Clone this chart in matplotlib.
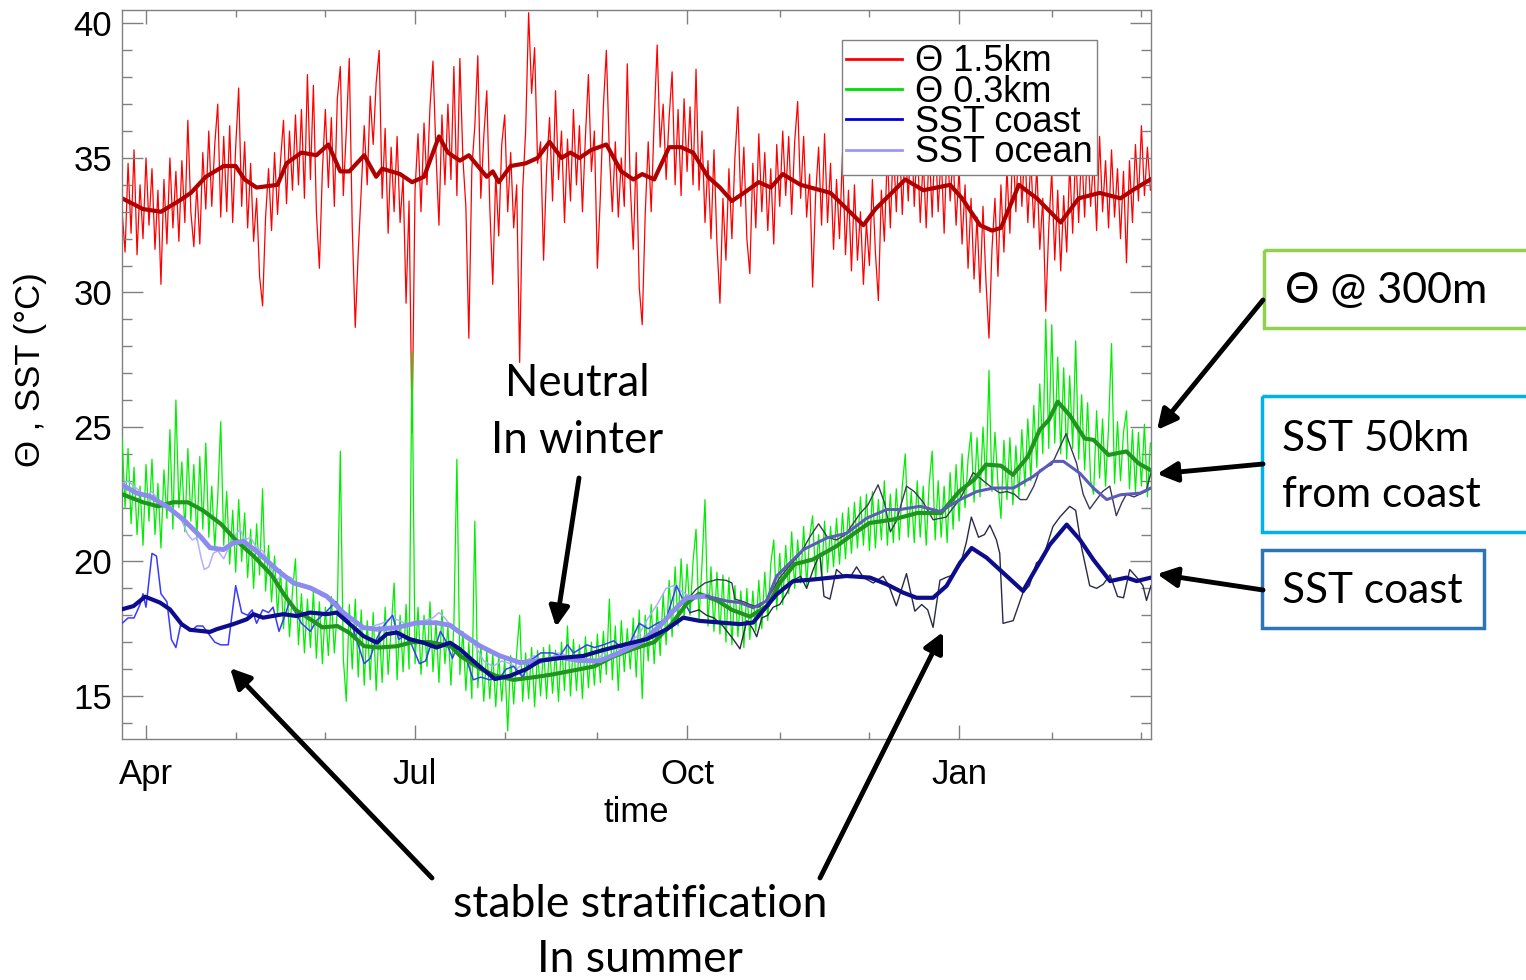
import numpy as np
import matplotlib
matplotlib.use("Agg")
import matplotlib.pyplot as plt
from matplotlib.lines import Line2D
from matplotlib.patches import Rectangle

plt.rcParams['font.family'] = ['Liberation Sans', 'DejaVu Sans']
NOTE_FONT = ['Lato', 'DejaVu Sans']

SWITCH_DAY = 182       # raw SST source changes here

# month starts on the time axis (record day), labelled every third month
month_starts = [0, 30, 60, 90, 120, 151, 181, 212, 242, 272, 303, 333]
month_labels = ['Apr', 'Jul', 'Oct', 'Jan']

# ---- potential temperature at 1.5 km, daily ----
theta15_days = np.arange(-8, 337)
theta15 = [
    33.0, 31.5, 34.8, 32.2, 35.3, 31.4, 34.0, 32.0, 35.0, 32.5,
    34.6, 31.6, 33.8, 30.3, 34.2, 31.8, 35.0, 32.4, 34.5, 31.9,
    34.9, 32.6, 36.4, 33.0, 31.7, 34.0, 31.8, 35.2, 33.1, 36.0,
    33.2, 35.5, 37.0, 32.8, 35.8, 33.0, 36.2, 32.6, 35.4, 37.6,
    33.2, 35.6, 32.4, 34.8, 31.9, 33.5, 30.6, 29.5, 32.8, 34.6,
    32.3, 35.2, 32.9, 34.9, 36.4, 33.3, 36.0, 33.8, 36.6, 34.0,
    36.8, 33.5, 38.1, 34.2, 37.7, 33.0, 30.9, 34.5, 36.8, 33.9,
    36.5, 33.2, 37.2, 38.4, 33.6, 36.0, 38.7, 32.4, 28.7, 31.5,
    33.8, 36.2, 34.0, 37.3, 35.5, 37.8, 39.0, 33.5, 36.1, 32.2,
    35.4, 33.0, 35.8, 32.6, 34.3, 29.6, 33.4, 24.8, 33.8, 35.9,
    33.0, 36.3, 34.0, 36.9, 38.6, 35.2, 32.5, 36.6, 34.0, 37.0,
    34.2, 38.4, 33.6, 38.7, 35.0, 33.2, 28.3, 34.6, 36.2, 38.8,
    33.5, 35.8, 37.5, 33.2, 30.3, 34.4, 32.1, 35.5, 36.6, 33.0,
    35.2, 32.4, 34.0, 27.4, 33.8, 36.0, 40.4, 37.4, 39.1, 34.8,
    35.6, 31.2, 34.6, 36.5, 33.4, 37.5, 34.2, 36.0, 32.6, 35.7,
    33.4, 36.8, 34.0, 36.2, 33.0, 35.8, 38.1, 34.5, 36.0, 30.9,
    33.6, 36.9, 39.0, 35.2, 33.0, 35.6, 32.8, 35.0, 33.2, 38.5,
    34.0, 31.6, 35.2, 30.2, 28.8, 32.9, 35.6, 33.0, 36.4, 39.2,
    35.4, 37.0, 34.2, 36.5, 38.2, 34.0, 36.8, 33.6, 37.2, 34.5,
    36.9, 34.0, 38.3, 33.8, 36.0, 32.6, 34.9, 32.0, 35.3, 31.8,
    29.6, 33.5, 31.2, 34.6, 32.0, 35.0, 36.9, 33.2, 35.4, 32.0,
    30.7, 34.8, 32.4, 35.9, 33.0, 35.2, 32.3, 34.6, 31.8, 35.5,
    33.2, 36.0, 33.6, 35.8, 32.9, 35.6, 37.1, 33.5, 35.8, 32.8,
    34.4, 30.2, 33.6, 35.4, 32.5, 35.9, 32.6, 34.8, 31.6, 34.2,
    32.0, 35.2, 31.4, 33.8, 30.8, 34.0, 31.2, 33.0, 30.3, 32.6,
    31.0, 34.2, 31.5, 29.7, 33.8, 31.9, 35.2, 32.4, 35.5, 33.0,
    35.8, 32.9, 35.5, 33.4, 36.4, 33.2, 35.6, 32.6, 35.0, 32.4,
    35.4, 32.8, 35.9, 33.0, 35.2, 32.2, 35.6, 33.4, 35.1, 32.5,
    34.6, 31.8, 34.0, 30.9, 33.5, 30.5, 32.8, 30.0, 33.2, 30.4,
    28.3, 31.6, 33.5, 30.6, 34.0, 31.5, 34.6, 32.2, 35.6, 33.0,
    35.9, 33.2, 35.4, 32.6, 35.0, 32.4, 34.7, 31.6, 33.5, 29.3,
    32.4, 34.5, 31.2, 33.8, 30.8, 33.6, 31.5, 34.8, 32.2, 35.3,
    32.6, 35.4, 32.8, 35.6, 33.2, 35.0, 32.3, 35.8, 33.0, 34.9,
    32.4, 35.3, 32.8, 34.6, 32.0, 34.5, 31.1, 34.9, 32.6, 35.5,
    33.4, 36.2, 33.6, 35.4, 33.8,
]
theta15_smooth_days = [
    -8, -1, 5, 11, 15, 20, 26, 30, 33, 37, 44, 47, 52, 57, 61, 65, 68, 73,
    77, 79, 85, 89, 93, 98, 101, 105, 108, 114, 116, 118, 122, 127, 131,
    135, 139, 142, 145, 149, 154, 159, 163, 166, 170, 175, 179, 183, 188,
    192, 196, 200, 205, 209, 213, 219, 229, 240, 244, 254, 260, 269, 273,
    279, 283, 286, 292, 298, 306, 312, 319, 326, 330, 336,
]
theta15_smooth = [
    33.5, 33.1, 33.0, 33.4, 33.7, 34.3, 34.7, 34.7, 34.2, 33.9, 34.0, 34.8,
    35.2, 35.1, 35.5, 34.5, 34.5, 35.1, 34.3, 34.6, 34.4, 34.1, 34.3, 35.8,
    35.2, 34.9, 35.1, 34.3, 34.5, 34.1, 34.7, 34.8, 35.0, 35.6, 35.0, 35.2,
    35.0, 35.3, 35.5, 34.5, 34.2, 34.4, 34.2, 35.4, 35.4, 35.2, 34.3, 33.9,
    33.4, 33.7, 34.1, 33.9, 34.4, 34.0, 33.7, 32.5, 33.1, 34.2, 33.8, 34.0,
    33.5, 32.5, 32.3, 32.4, 34.0, 33.5, 32.6, 33.5, 33.7, 33.5, 33.8, 34.2,
]

# ---- potential temperature at 0.3 km, daily ----
theta03_days = np.arange(-8, 337)
theta03 = [
    24.6, 22.0, 24.2, 21.4, 23.5, 21.0, 22.8, 20.6, 23.6, 21.5,
    23.8, 21.0, 22.9, 20.5, 23.4, 21.6, 24.9, 21.2, 26.0, 22.0,
    23.7, 21.1, 24.2, 21.5, 23.6, 20.8, 23.9, 21.2, 24.4, 20.9,
    22.8, 20.5, 22.4, 25.2, 20.6, 22.6, 19.9, 21.9, 19.6, 22.3,
    20.0, 21.8, 19.4, 21.2, 19.0, 21.4, 19.5, 22.7, 18.9, 20.6,
    18.5, 20.2, 18.0, 19.7, 17.5, 19.4, 17.2, 18.9, 20.1, 16.9,
    18.8, 16.6, 18.6, 16.8, 18.9, 16.4, 18.5, 16.2, 18.3, 16.5,
    18.7, 16.6, 18.2, 24.1, 16.4, 14.8, 18.4, 16.0, 18.6, 15.7,
    18.2, 15.4, 17.8, 15.6, 18.1, 15.2, 17.6, 15.5, 18.3, 15.8,
    17.5, 19.2, 15.6, 18.0, 15.9, 18.4, 16.0, 27.8, 16.2, 18.3,
    15.8, 18.0, 16.1, 18.5, 15.9, 17.8, 15.5, 18.2, 16.2, 17.6,
    15.4, 17.7, 23.8, 15.8, 17.4, 15.2, 17.0, 14.9, 21.5, 15.3,
    16.9, 14.8, 16.7, 14.9, 16.6, 14.6, 16.5, 14.8, 16.4, 13.7,
    16.5, 14.7, 16.6, 18.0, 14.8, 16.6, 14.9, 16.8, 14.6, 16.7,
    15.0, 16.8, 14.9, 16.9, 15.1, 16.7, 14.8, 17.0, 15.2, 17.6,
    15.0, 17.1, 15.2, 16.9, 14.9, 17.2, 15.3, 17.0, 15.4, 17.3,
    15.5, 17.4, 15.8, 18.6, 15.6, 17.6, 15.2, 17.8, 15.9, 17.5,
    16.0, 17.9, 15.7, 18.2, 14.9, 18.0, 16.3, 18.4, 16.2, 18.3,
    16.5, 18.8, 16.9, 19.3, 17.2, 19.8, 17.6, 20.1, 17.9, 19.9,
    18.0, 20.0, 21.2, 17.8, 19.9, 22.3, 17.6, 19.8, 17.4, 19.6,
    17.3, 19.5, 17.0, 19.4, 16.9, 19.1, 17.2, 18.9, 16.8, 19.0,
    17.1, 18.9, 17.4, 19.3, 17.5, 19.6, 17.8, 19.9, 20.8, 18.2,
    20.3, 18.4, 20.6, 18.8, 21.1, 19.0, 20.8, 19.2, 21.3, 19.1,
    20.9, 21.7, 19.3, 21.0, 19.4, 21.5, 19.6, 21.3, 19.8, 21.6,
    19.9, 21.8, 20.1, 22.0, 20.3, 22.2, 20.5, 22.4, 20.6, 22.5,
    20.4, 22.6, 20.5, 22.3, 20.8, 23.0, 20.6, 22.5, 20.7, 22.7,
    20.8, 22.8, 24.0, 20.9, 22.6, 20.7, 23.0, 20.9, 22.8, 20.6,
    22.9, 24.1, 20.8, 23.0, 20.9, 22.8, 20.7, 23.3, 21.2, 23.6,
    21.5, 24.0, 22.0, 23.8, 24.8, 22.2, 24.6, 22.4, 25.0, 22.8,
    27.1, 22.6, 24.8, 22.9, 21.6, 24.5, 22.3, 24.6, 22.1, 24.3,
    22.4, 24.9, 22.8, 25.3, 23.0, 25.8, 23.5, 26.6, 24.0, 29.0,
    24.2, 28.8, 24.4, 27.6, 24.0, 27.2, 23.8, 26.9, 24.2, 28.2,
    23.8, 26.2, 23.4, 25.9, 23.0, 22.5, 25.6, 23.1, 25.3, 22.8,
    25.0, 28.1, 22.9, 25.2, 23.0, 24.8, 25.6, 22.7, 24.9, 22.6,
    24.8, 22.8, 25.1, 22.4, 24.4,
]
theta03_smooth_days = [
    -8, -1, 4, 9, 14, 19, 25, 30, 36, 42, 46, 50, 55, 59, 64, 68, 73, 78,
    84, 89, 95, 102, 105, 112, 117, 123, 130, 136, 143, 150, 156, 163, 170,
    176, 181, 185, 191, 196, 202, 208, 212, 217, 223, 231, 237, 242, 250,
    258, 266, 272, 277, 281, 286, 290, 295, 299, 302, 305, 309, 314, 317,
    322, 328, 332, 336,
]
theta03_smooth = [
    22.5, 22.2, 22.05, 22.2, 22.2, 21.9, 21.4, 20.8, 20.2, 19.5, 18.8, 18.2,
    17.85, 17.55, 17.6, 17.35, 16.85, 16.8, 16.85, 17.0, 17.0, 16.85, 16.5,
    16.0, 15.75, 15.6, 15.7, 15.8, 15.95, 16.1, 16.45, 16.75, 17.0, 17.7,
    18.45, 18.8, 18.55, 18.2, 17.95, 18.35, 19.2, 19.9, 20.07, 20.57, 21.05,
    21.43, 21.56, 21.8, 21.8, 22.6, 23.04, 23.6, 23.56, 23.22, 23.9, 24.9,
    25.26, 25.94, 25.44, 24.57, 24.52, 23.96, 24.09, 23.65, 23.4,
]

# ---- SST at the coast ----
coast_days = [
    -8, -6, -4, -2, -1, 0, 2, 3.5, 5, 7,
    8.5, 10, 11.5, 13, 15, 17, 19, 21, 23, 25,
    27.5, 30, 32, 34, 35.5, 37, 39, 41, 42.5, 44.5,
    46.5, 48, 50, 52, 55, 57, 60, 63.5, 66, 69,
    71, 73, 75, 77, 79.5, 82.5, 84.5, 86, 88.5, 91.5,
    93.5, 95, 97, 98.5, 100.5, 102.5, 104, 106.5, 109.5, 112,
    115, 118.5, 120.5, 123, 126, 128.5, 132, 136, 138.5, 141,
    143, 147.5, 150, 153, 156.5, 159, 162, 165, 168, 171,
    174, 177.5, 179.5, 182, 185, 187.5, 190, 193, 196.5, 198.7,
    201, 203, 204.3, 206, 208, 209.8, 212, 214.5, 216.5, 219,
    221, 223.2, 225.4, 226.8, 228.8, 231, 233, 235.5, 237.7, 240,
    243.3, 246.6, 248.5, 251, 254.4, 257.2, 259.5, 261.5, 263.3, 265.6,
    267.5, 270, 272.5, 274.4, 276.1, 278.5, 280.5, 282.3, 284.5, 285.6,
    286.7, 290.1, 293.4, 295.5, 297.9, 300, 303.4, 305.7, 309, 311,
    313, 315.7, 318, 320.2, 322.5, 325, 327, 329.1, 331.5, 333.5,
    334.7, 336.2,
]
coast_sst = [
    17.7, 17.9, 17.9, 18.4, 18.8, 18.3, 20.3, 20.2, 18.8, 18.5,
    17.1, 16.8, 17.6, 17.6, 17.4, 17.6, 17.6, 17.3, 17.0, 16.9,
    16.9, 19.1, 18.1, 18.0, 18.2, 17.7, 18.2, 18.1, 18.3, 17.4,
    18.0, 18.5, 18.1, 17.7, 17.4, 17.8, 18.1, 18.5, 18.0, 17.6,
    16.9, 16.2, 16.4, 17.1, 17.6, 18.0, 17.1, 17.2, 17.0, 16.2,
    16.3, 16.8, 16.9, 17.4, 17.0, 16.4, 16.8, 16.6, 15.6, 15.7,
    15.6, 15.7, 16.0, 16.1, 15.7, 16.3, 16.6, 16.6, 16.5, 16.9,
    16.6, 16.9, 16.8, 16.9, 17.05, 16.8, 17.0, 17.7, 17.5, 17.7,
    17.85, 19.1, 18.6, 18.1, 18.2, 18.0, 17.9, 17.6, 17.1, 16.75,
    17.8, 17.5, 17.2, 17.9, 18.0, 18.3, 18.4, 18.85, 19.3, 19.45,
    19.0, 19.7, 20.3, 18.7, 18.6, 19.7, 19.5, 19.4, 19.8, 19.4,
    19.2, 19.45, 19.1, 18.35, 19.55, 18.15, 18.4, 18.2, 17.55, 19.3,
    19.4, 19.5, 19.9, 20.7, 21.65, 20.9, 21.0, 21.35, 20.8, 20.3,
    17.7, 17.8, 18.85, 19.1, 19.95, 20.1, 21.3, 21.65, 22.05, 21.9,
    20.5, 19.1, 19.0, 19.15, 19.5, 18.7, 18.65, 19.7, 19.4, 19.1,
    18.55, 19.1,
]
coast_smooth_days = [
    -8.1, -4.2, -0.3, 4.7, 8.0, 11.9, 14.7, 21.4, 23.6, 29.2, 33.7, 35.9,
    39.2, 45.9, 50.4, 54.9, 60.4, 63.8, 68.2, 72.7, 77.2, 80.5, 83.9, 88.3,
    92.8, 97.2, 101.7, 105.0, 110.6, 116.7, 121.8, 127.3, 131.8, 138.5,
    146.3, 153.0, 160.8, 167.5, 174.2, 179.7, 185.3, 192.0, 198.7, 203.1,
    205.4, 211.0, 216.5, 223.2, 234.4, 242.2, 247.8, 253.3, 257.8, 263.3,
    267.8, 272.3, 276.2, 281.2, 287.9, 293.4, 297.9, 302.4, 308.0, 312.4,
    316.9, 322.5, 328.0, 331.4, 336.2,
]
coast_smooth = [
    18.22, 18.34, 18.69, 18.47, 18.22, 17.67, 17.46, 17.38, 17.48, 17.67,
    17.85, 18.04, 17.91, 18.04, 17.97, 18.1, 18.04, 18.1, 17.67, 17.23,
    16.98, 17.3, 17.36, 17.11, 16.98, 16.8, 16.98, 16.74, 16.19, 15.63,
    15.75, 16.0, 16.31, 16.41, 16.49, 16.71, 16.93, 17.11, 17.48, 17.91,
    17.79, 17.73, 17.67, 17.73, 18.04, 18.78, 19.27, 19.33, 19.46, 19.4,
    19.15, 18.84, 18.65, 18.65, 19.09, 19.95, 20.5, 20.14, 19.46, 18.9,
    19.77, 20.63, 21.37, 20.81, 20.07, 19.27, 19.4, 19.27, 19.4,
]

# ---- SST 50 km offshore ----
ocean_days = [
    -8, -6, -4, -2, 0, 2, 4, 6, 8, 10,
    12, 14, 15.5, 17, 18.5, 19.5, 21, 22.5, 24, 26,
    28, 30, 31.5, 33, 35, 37, 39, 41, 43.5, 46,
    48.5, 51, 54, 57, 59, 62.5, 64.5, 67, 70, 73,
    76, 79, 82, 85, 88, 90, 93, 96, 98, 100,
    102, 104, 107, 110, 113, 116, 119, 122, 124, 127,
    130, 132, 135, 138, 141, 144, 147, 150, 153, 156,
    159, 162, 165, 168, 171, 174, 176.5, 179, 182, 184,
    187, 191, 194, 196, 197, 200, 202, 205, 207, 209.5,
    212, 215, 219, 222, 225, 228, 231, 234, 236.5, 239,
    241.5, 244.9, 247, 249, 251, 254.4, 257, 260, 263.3, 265.5,
    267.7, 270, 272.2, 274.5, 276.7, 279, 281.2, 283.5, 285.6, 288,
    290.5, 292.5, 294.6, 297, 299, 301, 303, 305.5, 307.8, 309.5,
    311.3, 313.5, 315.7, 318, 320, 322.4, 324.6, 326.5, 328, 330.5,
    332.5, 334.5, 336.2,
]
ocean_sst = [
    22.9, 23.0, 22.8, 22.6, 22.4, 22.6, 22.3, 22.0, 22.1, 21.8,
    21.5, 21.0, 20.8, 20.9, 20.1, 19.7, 19.8, 20.3, 20.4, 20.1,
    20.6, 21.0, 21.2, 20.8, 20.9, 20.5, 20.4, 20.0, 19.3, 19.5,
    19.4, 19.1, 19.0, 18.9, 18.7, 18.6, 18.4, 17.9, 17.5, 17.5,
    17.6, 17.7, 17.9, 17.8, 17.6, 17.7, 17.8, 17.9, 18.1, 17.9,
    17.6, 17.4, 17.2, 16.9, 16.3, 16.1, 16.3, 16.2, 16.0, 16.3,
    16.5, 16.2, 16.4, 16.6, 16.5, 16.3, 16.4, 16.2, 16.6, 16.8,
    16.7, 17.0, 17.3, 17.9, 18.4, 19.0, 19.1, 18.9, 18.7, 18.96,
    19.2, 19.33, 19.3, 19.2, 18.6, 18.5, 18.4, 18.3, 18.5, 18.9,
    19.4, 19.8, 20.3, 20.9, 21.4, 20.9, 20.8, 21.0, 21.4, 21.8,
    22.1, 22.85, 22.2, 21.1, 21.5, 22.8, 22.6, 22.2, 21.55, 21.6,
    21.65, 22.0, 22.3, 22.8, 23.3, 23.1, 22.9, 22.7, 22.55, 22.6,
    22.5, 22.3, 22.3, 22.8, 23.4, 23.5, 23.6, 24.2, 24.75, 24.2,
    23.65, 22.5, 21.95, 22.3, 22.6, 22.8, 21.7, 22.2, 22.5, 22.4,
    22.5, 22.6, 23.3,
]
ocean_smooth_days = [
    -8.1, -3.1, 1.3, 6.9, 12.5, 18.1, 21.4, 25.9, 29.2, 32.6, 37.0, 43.7,
    49.3, 54.9, 60.4, 66.0, 72.7, 77.2, 83.9, 90.6, 97.2, 101.7, 105.0,
    111.7, 118.4, 125.1, 131.8, 138.5, 145.2, 151.9, 158.6, 165.2, 171.9,
    176.4, 180.8, 187.6, 194.2, 198.7, 203.1, 207.6, 211.0, 219.9, 227.7,
    234.4, 241.1, 247.8, 252.2, 258.9, 265.6, 272.3, 277.9, 283.5, 290.2,
    296.8, 303.5, 306.9, 312.4, 316.9, 321.4, 326.0, 332.6, 336.2,
]
ocean_smooth = [
    22.85, 22.54, 22.42, 22.05, 21.56, 20.94, 20.51, 20.44, 20.69, 20.75,
    20.38, 19.7, 19.2, 19.02, 18.71, 18.1, 17.54, 17.48, 17.54, 17.72,
    17.72, 17.63, 17.36, 16.86, 16.49, 16.24, 16.31, 16.43, 16.31, 16.31,
    16.62, 16.98, 17.6, 18.16, 18.65, 18.71, 18.53, 18.47, 18.28, 18.53,
    19.46, 20.44, 20.87, 21.05, 21.61, 21.93, 21.93, 22.05, 21.86, 22.3,
    22.6, 22.73, 22.73, 23.16, 23.72, 23.72, 23.28, 22.73, 22.3, 22.48,
    22.54, 22.73,
]

legend_labels = ['Θ 1.5km', 'Θ 0.3km', 'SST coast', 'SST ocean']
legend_colors = ['#ff0000', '#00dd00', '#0000dd', '#9898ff']


def split(days, vals, at):
    d = np.asarray(days, dtype=float)
    v = np.asarray(vals, dtype=float)
    pre, post = d <= at, d >= at
    return (d[pre], v[pre]), (d[post], v[post])


fig = plt.figure(figsize=(15.26, 9.8), dpi=100)
ax = fig.add_axes([122 / 1526, 1 - 739 / 980, 1029 / 1526, 729 / 980])

ax.plot(theta15_days, theta15, color='#ff0000', lw=0.9, zorder=1)
ax.plot(theta15_smooth_days, theta15_smooth, color='#b00000', lw=3, zorder=2)
ax.plot(theta03_days, theta03, color='#00ee00', lw=0.9, zorder=3)

(o1, o2) = split(ocean_days, ocean_sst, SWITCH_DAY)
(c1, c2) = split(coast_days, coast_sst, SWITCH_DAY)
ax.plot(*o1, color='#b0b0ff', lw=1.1, zorder=4)
ax.plot(*c1, color='#3a3aff', lw=1.1, zorder=5)
ax.plot(*o2, color='#3a3a55', lw=1.0, zorder=4)
ax.plot(*c2, color='#2a2a48', lw=1.0, zorder=5)

ax.plot(theta03_smooth_days, theta03_smooth, color='#1e961e', lw=3, zorder=6)
(s1, s2) = split(ocean_smooth_days, ocean_smooth, 187.6)
ax.plot(*s1, color='#8c8cf0', lw=3.5, zorder=7)
ax.plot(*s2, color='#5c5cb8', lw=2.2, zorder=7)
ax.plot(coast_smooth_days, coast_smooth, color='#0c0c8c', lw=3, zorder=8)

ax.set_xlim(-8.03, 336.2)
ax.set_ylim(13.4, 40.5)
ax.set_xticks(month_starts[::3])
ax.set_xticklabels(month_labels)
ax.set_xticks(month_starts, minor=True)
ax.set_yticks([15, 20, 25, 30, 35, 40])
ax.set_yticks(np.arange(14, 41), minor=True)
ax.tick_params(which='both', direction='in', top=True, right=True,
               color='#808080', labelcolor='black', labelsize=25)
ax.tick_params(axis='y', which='major', length=15, width=1, pad=7)
ax.tick_params(axis='y', which='minor', length=7, width=1)
ax.tick_params(axis='x', which='major', length=10, width=1, pad=14)
ax.tick_params(axis='x', which='minor', length=5, width=1)
for sp in ax.spines.values():
    sp.set_color('#808080')
    sp.set_linewidth(1)

ax.set_xlabel('time', fontsize=25)
ax.xaxis.set_label_coords(0.5, -0.078)

handles = [Line2D([], [], color=c, lw=2) for c in legend_colors]
leg = ax.legend(handles, legend_labels, loc='upper right',
                bbox_to_anchor=(0.9475, 0.9588), borderaxespad=0,
                fontsize=26, labelspacing=-0.13, handlelength=1.55,
                handletextpad=0.35, borderpad=0.12, fancybox=False,
                edgecolor='#808080', framealpha=1)
leg.get_frame().set_linewidth(1)
leg.set_zorder(20)

# annotation layer in figure pixels
ov = fig.add_axes([0, 0, 1, 1], zorder=10)
ov.set_xlim(0, 1526)
ov.set_ylim(980, 0)
ov.axis('off')

ov.text(31, 370, 'Θ , SST (°C)', rotation=90, ha='center', va='center',
        fontsize=25)

ov.add_patch(Rectangle((1264, 250), 300, 78, fill=False, ec='#92d050', lw=2.5))
ov.add_patch(Rectangle((1262, 396), 300, 136, fill=False, ec='#00b0f0', lw=2.5))
ov.add_patch(Rectangle((1262, 550), 222, 78, fill=False, ec='#2e75b6', lw=2.5))

ov.text(1285, 291, 'Θ @ 300m', ha='left', va='center', fontsize=31, family=NOTE_FONT)
ov.text(1282, 467, 'SST 50km\nfrom coast', ha='left', va='center', fontsize=30.5,
        family=NOTE_FONT, linespacing=1.55)
ov.text(1282, 591, 'SST coast', ha='left', va='center', fontsize=30.5, family=NOTE_FONT)
ov.text(577, 412, 'Neutral\nIn winter', ha='center', va='center', fontsize=31.5,
        family=NOTE_FONT, linespacing=1.5)
ov.text(640, 932, 'stable stratification\nIn summer', ha='center', va='center',
        fontsize=32, family=NOTE_FONT, linespacing=1.43)

arrows = [
    ((1263, 300), (1157, 430)),
    ((1263, 464), (1157, 474)),
    ((1263, 590), (1157, 574)),
    ((579, 478), (556, 627)),
    ((432, 878), (230, 668)),
    ((820, 878), (943, 632)),
]
for tail, head in arrows:
    ov.annotate('', xy=head, xytext=tail,
                arrowprops=dict(arrowstyle='-|>', color='black', lw=3.5,
                                mutation_scale=30, shrinkA=0, shrinkB=0))

fig.savefig('out.png', dpi=100)
